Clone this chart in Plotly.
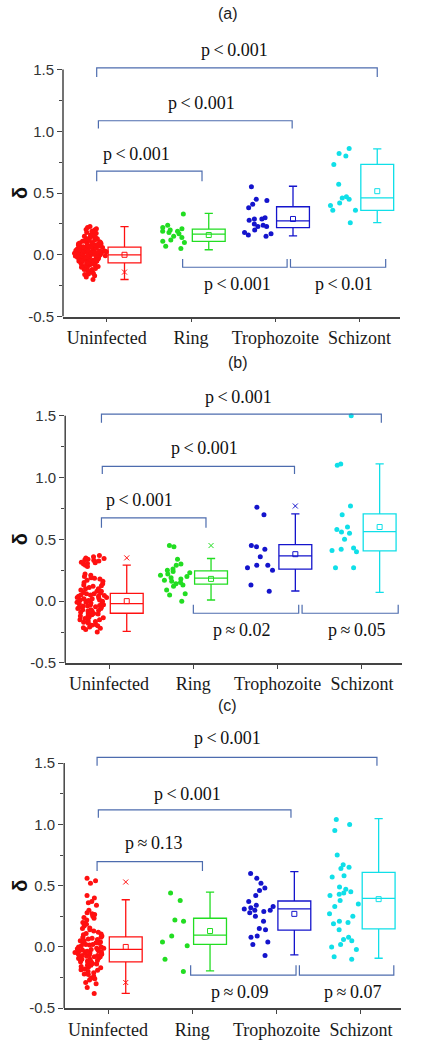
import plotly.graph_objects as go

CATEGORIES = ["Uninfected", "Ring", "Trophozoite", "Schizont"]
COLORS = ["#ff1010", "#22dd22", "#1414cc", "#10dfe8"]
BRACKET_COLOR = "#4d6cae"

# ---------------- panel (a) data ----------------
a_unin = [0.23, 0.22, 0.21, 0.20, 0.19, 0.19, 0.18, 0.17, 0.16, 0.16, 0.15, 0.15, 0.14, 0.14,
          0.13, 0.13, 0.12, 0.12, 0.12, 0.11, 0.11, 0.10, 0.10, 0.10, 0.09, 0.09, 0.09, 0.08,
          0.08, 0.08, 0.07, 0.07, 0.07, 0.06, 0.06, 0.06, 0.06, 0.05, 0.05, 0.05, 0.04, 0.04,
          0.04, 0.04, 0.03, 0.03, 0.03, 0.03, 0.02, 0.02, 0.02, 0.02, 0.01, 0.01, 0.01, 0.01,
          0.00, 0.00, 0.00, 0.00, -0.01, -0.01, -0.01, -0.01, -0.02, -0.02, -0.02, -0.03, -0.03,
          -0.03, -0.04, -0.04, -0.04, -0.05, -0.05, -0.05, -0.06, -0.06, -0.07, -0.07, -0.08,
          -0.08, -0.09, -0.09, -0.10, -0.10, -0.11, -0.12, -0.12, -0.13, -0.14, -0.15, -0.16,
          -0.17, -0.18, -0.20,
          0.115, 0.105, 0.095, 0.085, 0.075, 0.065, 0.055, 0.045, 0.035, 0.025, 0.015, 0.005,
          -0.005, -0.015, -0.025, -0.035, -0.045, -0.055, -0.065, -0.075, -0.085, -0.095,
          0.072, 0.052, 0.033, 0.018, 0.008, -0.008, -0.018, -0.033, -0.052, -0.068,
          0.145, 0.125, -0.115, -0.135, 0.175, -0.155, 0.205, 0.012, -0.012, 0.028]
a_ring = [0.33, 0.24, 0.22, 0.21, 0.20, 0.19, 0.19, 0.18, 0.17, 0.15, 0.14, 0.12, 0.11, 0.10, 0.07, 0.05]
a_troph = [0.55, 0.45, 0.44, 0.41, 0.38, 0.30, 0.29, 0.29, 0.28, 0.25, 0.24, 0.23, 0.23, 0.20, 0.18, 0.17, 0.16, 0.15]
a_schiz = [0.86, 0.82, 0.80, 0.73, 0.57, 0.47, 0.46, 0.45, 0.42, 0.40, 0.36, 0.36, 0.26]
a_q1 = [-0.066, 0.108, 0.220, 0.359]
a_med = [0.0, 0.167, 0.274, 0.461]
a_q3 = [0.062, 0.207, 0.389, 0.732]
a_lo = [-0.20, 0.041, 0.153, 0.260]
a_hi = [0.228, 0.335, 0.555, 0.857]
a_mean = [0.0, 0.16, 0.29, 0.515]
a_extra_cat = [0]
a_extra_val = [-0.14]
a_labels = ["p\u2009<\u20090.001", "p\u2009<\u20090.001", "p\u2009<\u20090.001", "p\u2009<\u20090.001", "p\u2009<\u20090.01"]

# ---------------- panel (b) data ----------------
b_unin = [0.37, 0.36, 0.35, 0.34, 0.33, 0.32, 0.31, 0.30, 0.29, 0.28, 0.22, 0.21, 0.20, 0.19,
          0.18, 0.17, 0.16, 0.15, 0.14, 0.13, 0.12, 0.11, 0.10, 0.10, 0.09, 0.08, 0.08, 0.07,
          0.06, 0.06, 0.05, 0.05, 0.04, 0.04, 0.03, 0.03, 0.02, 0.02, 0.01, 0.01, 0.00, 0.00,
          -0.01, -0.01, -0.02, -0.02, -0.03, -0.03, -0.04, -0.04, -0.05, -0.05, -0.06, -0.06,
          -0.07, -0.07, -0.08, -0.08, -0.09, -0.10, -0.10, -0.11, -0.12, -0.12, -0.13, -0.14,
          -0.15, -0.15, -0.16, -0.17, -0.18, -0.19, -0.20, -0.21, -0.22, -0.23, -0.25,
          0.345, 0.325, 0.305, 0.315, 0.335, 0.185, 0.125, 0.065, 0.025, -0.015, -0.045,
          -0.075, -0.105, -0.135, -0.165, -0.195, -0.215, 0.045, 0.005, -0.035]
b_ring = [0.45, 0.44, 0.34, 0.30, 0.29, 0.26, 0.25, 0.24, 0.23, 0.22, 0.21, 0.20, 0.19, 0.18,
          0.17, 0.16, 0.15, 0.14, 0.13, 0.12, 0.09, 0.06, 0.05, 0.00]
b_troph = [0.76, 0.70, 0.45, 0.44, 0.42, 0.36, 0.29, 0.29, 0.27, 0.25, 0.13, 0.08]
b_schiz = [1.50, 1.11, 1.10, 0.77, 0.70, 0.60, 0.58, 0.56, 0.55, 0.50, 0.43, 0.42, 0.41, 0.40, 0.27, 0.27]
b_q1 = [-0.098, 0.138, 0.259, 0.406]
b_med = [-0.02, 0.186, 0.366, 0.562]
b_q3 = [0.063, 0.245, 0.457, 0.706]
b_lo = [-0.245, 0.009, 0.082, 0.071]
b_hi = [0.291, 0.345, 0.706, 1.111]
b_mean = [0.0, 0.18, 0.38, 0.60]
b_extra_cat = [0, 1, 2]
b_extra_val = [0.35, 0.45, 0.77]
b_labels = ["p\u2009<\u20090.001", "p\u2009<\u20090.001", "p\u2009<\u20090.001", "p\u2009\u2248\u20090.02", "p\u2009\u2248\u20090.05"]

# ---------------- panel (c) data ----------------
c_unin = [0.56, 0.54, 0.52, 0.42, 0.40, 0.37, 0.36, 0.34, 0.30, 0.28, 0.27, 0.25, 0.24, 0.22,
          0.20, 0.19, 0.17, 0.15, 0.14, 0.13, 0.12, 0.11, 0.10, 0.09, 0.08, 0.08, 0.07, 0.06,
          0.05, 0.05, 0.04, 0.03, 0.03, 0.02, 0.02, 0.01, 0.00, 0.00, -0.01, -0.01, -0.02,
          -0.02, -0.03, -0.03, -0.04, -0.04, -0.05, -0.05, -0.06, -0.06, -0.07, -0.07, -0.08,
          -0.08, -0.09, -0.09, -0.10, -0.10, -0.11, -0.12, -0.12, -0.13, -0.14, -0.15, -0.15,
          -0.16, -0.17, -0.18, -0.19, -0.20, -0.21, -0.22, -0.24, -0.26, -0.27, -0.29, -0.30,
          -0.33, -0.38,
          0.265, 0.235, 0.185, 0.155, 0.105, 0.065, 0.035, 0.015, -0.015, -0.035, -0.055,
          -0.075, -0.095, -0.115, -0.135, -0.165, -0.185, -0.225, -0.255, -0.045, -0.065, -0.025]
c_ring = [0.44, 0.38, 0.22, 0.21, 0.09, 0.04, 0.01, -0.10, -0.20]
c_troph = [0.60, 0.56, 0.52, 0.48, 0.46, 0.42, 0.37, 0.34, 0.33, 0.32, 0.31, 0.30, 0.30, 0.29,
           0.28, 0.25, 0.21, 0.15, 0.14, 0.09, 0.08, 0.04, 0.02, -0.07]
c_schiz = [1.04, 1.00, 0.95, 0.75, 0.67, 0.65, 0.64, 0.58, 0.57, 0.49, 0.47, 0.45, 0.44, 0.43,
           0.42, 0.38, 0.35, 0.33, 0.27, 0.25, 0.21, 0.20, 0.19, 0.14, 0.08, 0.06, 0.05, 0.02,
           0.00, -0.02, -0.08, -0.10]
c_q1 = [-0.122, 0.021, 0.137, 0.148]
c_med = [-0.02, 0.096, 0.31, 0.396]
c_q3 = [0.083, 0.234, 0.375, 0.609]
c_lo = [-0.379, -0.195, -0.065, -0.092]
c_hi = [0.385, 0.447, 0.615, 1.047]
c_mean = [0.0, 0.13, 0.27, 0.39]
c_extra_cat = [0, 0]
c_extra_val = [0.53, -0.29]
c_labels = ["p\u2009<\u20090.001", "p\u2009<\u20090.001", "p\u2009\u2248\u20090.13", "p\u2009\u2248\u20090.09", "p\u2009\u2248\u20090.07"]

Y_TICKVALS = [-0.5, 0.0, 0.5, 1.0, 1.5]
Y_TICKTEXT = ["-0.5", "0.0", "0.5", "1.0", "1.5"]

# layout / style settings (positions in px of the 434x1047 canvas)
W, H = 434, 1047
PTS_OFF, BOX_OFF, BOX_W = -0.20, 0.21, 0.39
XRANGE = [-0.52, 3.48]
YRANGE = [-0.5, 1.75]

panels = [
    dict(name="(a)", title_xy=(228, 14), xdom=(63, 400), ydom=(38.9, 319),
         pts=[a_unin, a_ring, a_troph, a_schiz], q1=a_q1, med=a_med, q3=a_q3, lo=a_lo, hi=a_hi,
         mean=a_mean, ex_c=a_extra_cat, ex_v=a_extra_val, labels=a_labels,
         brackets=[(-0.12, 3.21, 1.513, 1.44, 1.52, 1.655),
                   (-0.10, 2.20, 1.085, 1.023, 1.12, 1.232),
                   (-0.12, 1.13, 0.678, 0.595, 0.35, 0.817),
                   (0.90, 2.14, -0.101, -0.034, 1.55, -0.24),
                   (2.18, 3.31, -0.101, -0.034, 2.82, -0.24)]),
    dict(name="(b)", title_xy=(238, 365), xdom=(65.2, 402.4), ydom=(387.9, 668),
         pts=[b_unin, b_ring, b_troph, b_schiz], q1=b_q1, med=b_med, q3=b_q3, lo=b_lo, hi=b_hi,
         mean=b_mean, ex_c=b_extra_cat, ex_v=b_extra_val, labels=b_labels,
         brackets=[(-0.09, 3.23, 1.513, 1.444, 1.53, 1.653),
                   (-0.08, 2.20, 1.09, 1.03, 1.13, 1.237),
                   (-0.09, 1.15, 0.674, 0.594, 0.36, 0.82),
                   (1.00, 2.25, -0.098, -0.03, 1.58, -0.237),
                   (2.29, 3.43, -0.098, -0.03, 2.94, -0.237)]),
    dict(name="(c)", title_xy=(227, 711), xdom=(64.2, 401.4), ydom=(738.1, 1016),
         pts=[c_unin, c_ring, c_troph, c_schiz], q1=c_q1, med=c_med, q3=c_q3, lo=c_lo, hi=c_hi,
         mean=c_mean, ex_c=c_extra_cat, ex_v=c_extra_val, labels=c_labels,
         brackets=[(-0.13, 3.19, 1.546, 1.478, 1.42, 1.708),
                   (-0.115, 2.17, 1.119, 1.055, 0.94, 1.249),
                   (-0.13, 1.12, 0.696, 0.62, 0.55, 0.85),
                   (0.98, 2.23, -0.23, -0.149, 1.56, -0.37),
                   (2.27, 3.39, -0.23, -0.149, 2.90, -0.37)]),
]

fig = go.Figure()
layout = dict(width=W, height=H, margin=dict(l=0, r=0, t=0, b=0),
              paper_bgcolor="white", plot_bgcolor="white", showlegend=False,
              shapes=[], annotations=[])

for k, p in enumerate(panels):
    sfx = "" if k == 0 else str(k + 1)
    xa, ya = "x" + sfx, "y" + sfx
    for i, cat in enumerate(CATEGORIES):
        col = COLORS[i]
        # jittered sample points
        fig.add_trace(go.Box(
            y=p["pts"][i], x0=i + PTS_OFF, width=BOX_W, boxpoints="all", jitter=1.0, pointpos=0,
            marker=dict(color=col, size=5, line=dict(width=0)),
            line=dict(width=0, color="rgba(0,0,0,0)"), fillcolor="rgba(0,0,0,0)",
            hoverinfo="y", xaxis=xa, yaxis=ya))
        # box with precomputed statistics
        fig.add_trace(go.Box(
            x=[i + BOX_OFF], q1=[p["q1"][i]], median=[p["med"][i]], q3=[p["q3"][i]],
            lowerfence=[p["lo"][i]], upperfence=[p["hi"][i]], width=BOX_W, whiskerwidth=0.25,
            boxpoints=False, line=dict(color=col, width=1.3), fillcolor="rgba(255,255,255,0)",
            xaxis=xa, yaxis=ya))
        # mean marker
        fig.add_trace(go.Scatter(
            x=[i + BOX_OFF], y=[p["mean"][i]], mode="markers",
            marker=dict(symbol="square-open", size=5, color=col, line=dict(width=1)),
            xaxis=xa, yaxis=ya, cliponaxis=False))
    # extra percentile markers
    fig.add_trace(go.Scatter(
        x=[c + BOX_OFF for c in p["ex_c"]], y=p["ex_v"], mode="markers",
        marker=dict(symbol="x-thin-open", size=5, color=[COLORS[c] for c in p["ex_c"]],
                    line=dict(width=1, color=[COLORS[c] for c in p["ex_c"]])),
        xaxis=xa, yaxis=ya))

    x0, x1 = p["xdom"]
    ytop, ybot = p["ydom"]
    layout["xaxis" + sfx] = dict(
        domain=[x0 / W, x1 / W], anchor=ya, range=XRANGE, tickmode="array",
        tickvals=list(range(len(CATEGORIES))), ticktext=CATEGORIES, ticks="outside", ticklen=4,
        tickcolor="#444", showline=True, linecolor="#444", linewidth=1.5, showgrid=False,
        zeroline=False, tickfont=dict(family="Liberation Serif", size=18, color="#1a1a1a"))
    layout["yaxis" + sfx] = dict(
        domain=[1 - ybot / H, 1 - ytop / H], anchor=xa, range=YRANGE, tickmode="array",
        tickvals=Y_TICKVALS, ticktext=Y_TICKTEXT, ticks="outside", ticklen=5, tickcolor="#444",
        showline=False, showgrid=False, zeroline=False,
        minor=dict(tickvals=[-0.25, 0.25, 0.75, 1.25], ticks="outside", ticklen=3, tickcolor="#444"),
        tickfont=dict(family="Liberation Sans", size=15, color="#333"))
    # y axis line from -0.5 to 1.5
    layout["shapes"].append(dict(type="line", xref="paper", yref=ya, x0=x0 / W, x1=x0 / W,
                                 y0=YRANGE[0], y1=Y_TICKVALS[-1], line=dict(color="#444", width=1.5)))
    # significance brackets
    for (bx0, bx1, by, bend, tx, ty), lab in zip(p["brackets"], p["labels"]):
        layout["shapes"].append(dict(
            type="path", xref=xa, yref=ya,
            path=f"M {bx0},{bend} L {bx0},{by} L {bx1},{by} L {bx1},{bend}",
            line=dict(color=BRACKET_COLOR, width=1.2)))
        layout["annotations"].append(dict(
            x=tx, y=ty, xref=xa, yref=ya, text=lab, showarrow=False,
            xanchor="center", yanchor="middle",
            font=dict(family="Liberation Serif", size=18, color="#111")))
    # panel title
    tx, ty = p["title_xy"]
    layout["annotations"].append(dict(x=tx / W, y=1 - ty / H, xref="paper", yref="paper",
                                      text=p["name"], showarrow=False,
                                      xanchor="center", yanchor="middle",
                                      font=dict(family="Liberation Sans", size=16, color="#222")))
    # delta axis label
    layout["annotations"].append(dict(x=20 / W, y=0.5, xref="paper", yref=ya, text="<b>δ</b>",
                                      textangle=-90, showarrow=False,
                                      xanchor="center", yanchor="middle",
                                      font=dict(family="Liberation Sans", size=20, color="#111")))

fig.update_layout(**layout)
fig.write_html("out.html", config={"displayModeBar": False},
               post_script="document.body.style.margin='0';document.body.style.overflow='hidden';")
